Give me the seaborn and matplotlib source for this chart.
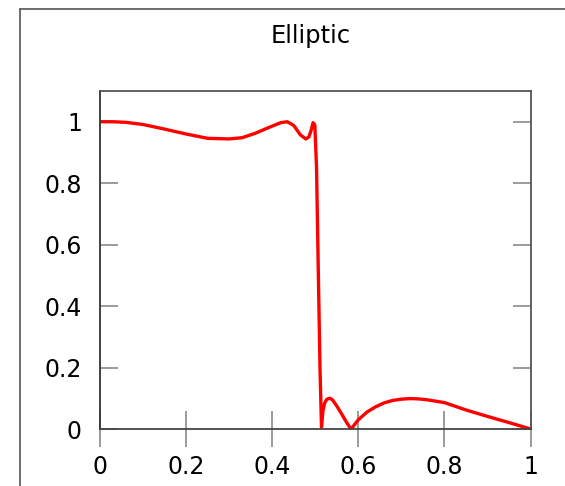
import matplotlib
matplotlib.use("Agg")
import matplotlib.pyplot as plt
from matplotlib.lines import Line2D
import seaborn as sns

# Frequency response (normalised frequency, gain)
freq = [0.0, 0.03, 0.06, 0.10, 0.15, 0.20, 0.25, 0.30, 0.33, 0.36,
        0.39, 0.42, 0.435, 0.45, 0.465, 0.478, 0.485, 0.49, 0.495, 0.499,
        0.503, 0.507, 0.511, 0.5145, 0.518, 0.522, 0.527, 0.534, 0.54, 0.55,
        0.56, 0.57, 0.578, 0.584, 0.59, 0.60, 0.62, 0.64, 0.66, 0.68,
        0.70, 0.72, 0.74, 0.76, 0.80, 0.85, 0.90, 0.95, 1.0]
gain = [1.0, 1.0, 0.998, 0.991, 0.976, 0.960, 0.946, 0.944, 0.948, 0.962,
        0.980, 0.997, 1.0, 0.988, 0.958, 0.944, 0.950, 0.970, 0.997, 0.990,
        0.85, 0.52, 0.20, 0.006, 0.060, 0.085, 0.097, 0.100, 0.095, 0.075,
        0.052, 0.028, 0.010, 0.0, 0.012, 0.030, 0.055, 0.072, 0.085, 0.093,
        0.097, 0.099, 0.098, 0.095, 0.086, 0.062, 0.041, 0.021, 0.0]

x_ticks = [0, 0.2, 0.4, 0.6, 0.8, 1]
x_labels = ["0", "0.2", "0.4", "0.6", "0.8", "1"]
y_ticks = [0, 0.2, 0.4, 0.6, 0.8, 1]
y_labels = ["0", "0.2", "0.4", "0.6", "0.8", "1"]

sns.set_style("white")
plt.rcParams["font.family"] = ["DejaVu Sans"]

fig = plt.figure(figsize=(5.65, 4.86), dpi=100)
ax = fig.add_axes([100 / 565, 1 - 429 / 486, 430.5 / 565, 338 / 486])

sns.lineplot(x=freq, y=gain, ax=ax, color="#ff0000", linewidth=2.4,
             estimator=None, sort=False)
for ln in ax.get_lines():
    ln.set_solid_joinstyle("round")
    ln.set_solid_capstyle("round")

ax.set_xlim(0, 1)
ax.set_ylim(0, 1.1)
ax.set_xticks(x_ticks)
ax.set_xticklabels(x_labels)
ax.set_yticks(y_ticks)
ax.set_yticklabels(y_labels)
ax.set_xlabel("")
ax.set_ylabel("")

for side in ["left", "top", "right", "bottom"]:
    ax.spines[side].set_visible(True)
    ax.spines[side].set_linewidth(1.3)
ax.spines["left"].set_color("#333333")
ax.spines["bottom"].set_color("#444444")
ax.spines["top"].set_color("#555555")
ax.spines["right"].set_color("#555555")

ax.tick_params(axis="y", direction="in", length=13, width=1.1, color="#808080",
               pad=13, labelsize=17, labelcolor="black",
               left=True, right=True, labelright=False)
ax.tick_params(axis="x", direction="inout", length=26, width=1.1, color="#808080",
               pad=6, labelsize=17, labelcolor="black", bottom=True, top=False)

# outer frame, cut off on the right and at the bottom
fig.add_artist(Line2D([20 / 565, 20 / 565], [-0.05, 1 - 9.5 / 486],
                      transform=fig.transFigure, color="#555555", lw=1.2))
fig.add_artist(Line2D([20 / 565, 1.05], [1 - 9.5 / 486, 1 - 9.5 / 486],
                      transform=fig.transFigure, color="#555555", lw=1.2))

fig.text(311 / 565, 1 - 43 / 486, "Elliptic", ha="center", va="baseline",
         fontsize=17.5, color="black")

fig.savefig("out.png", dpi=100)
